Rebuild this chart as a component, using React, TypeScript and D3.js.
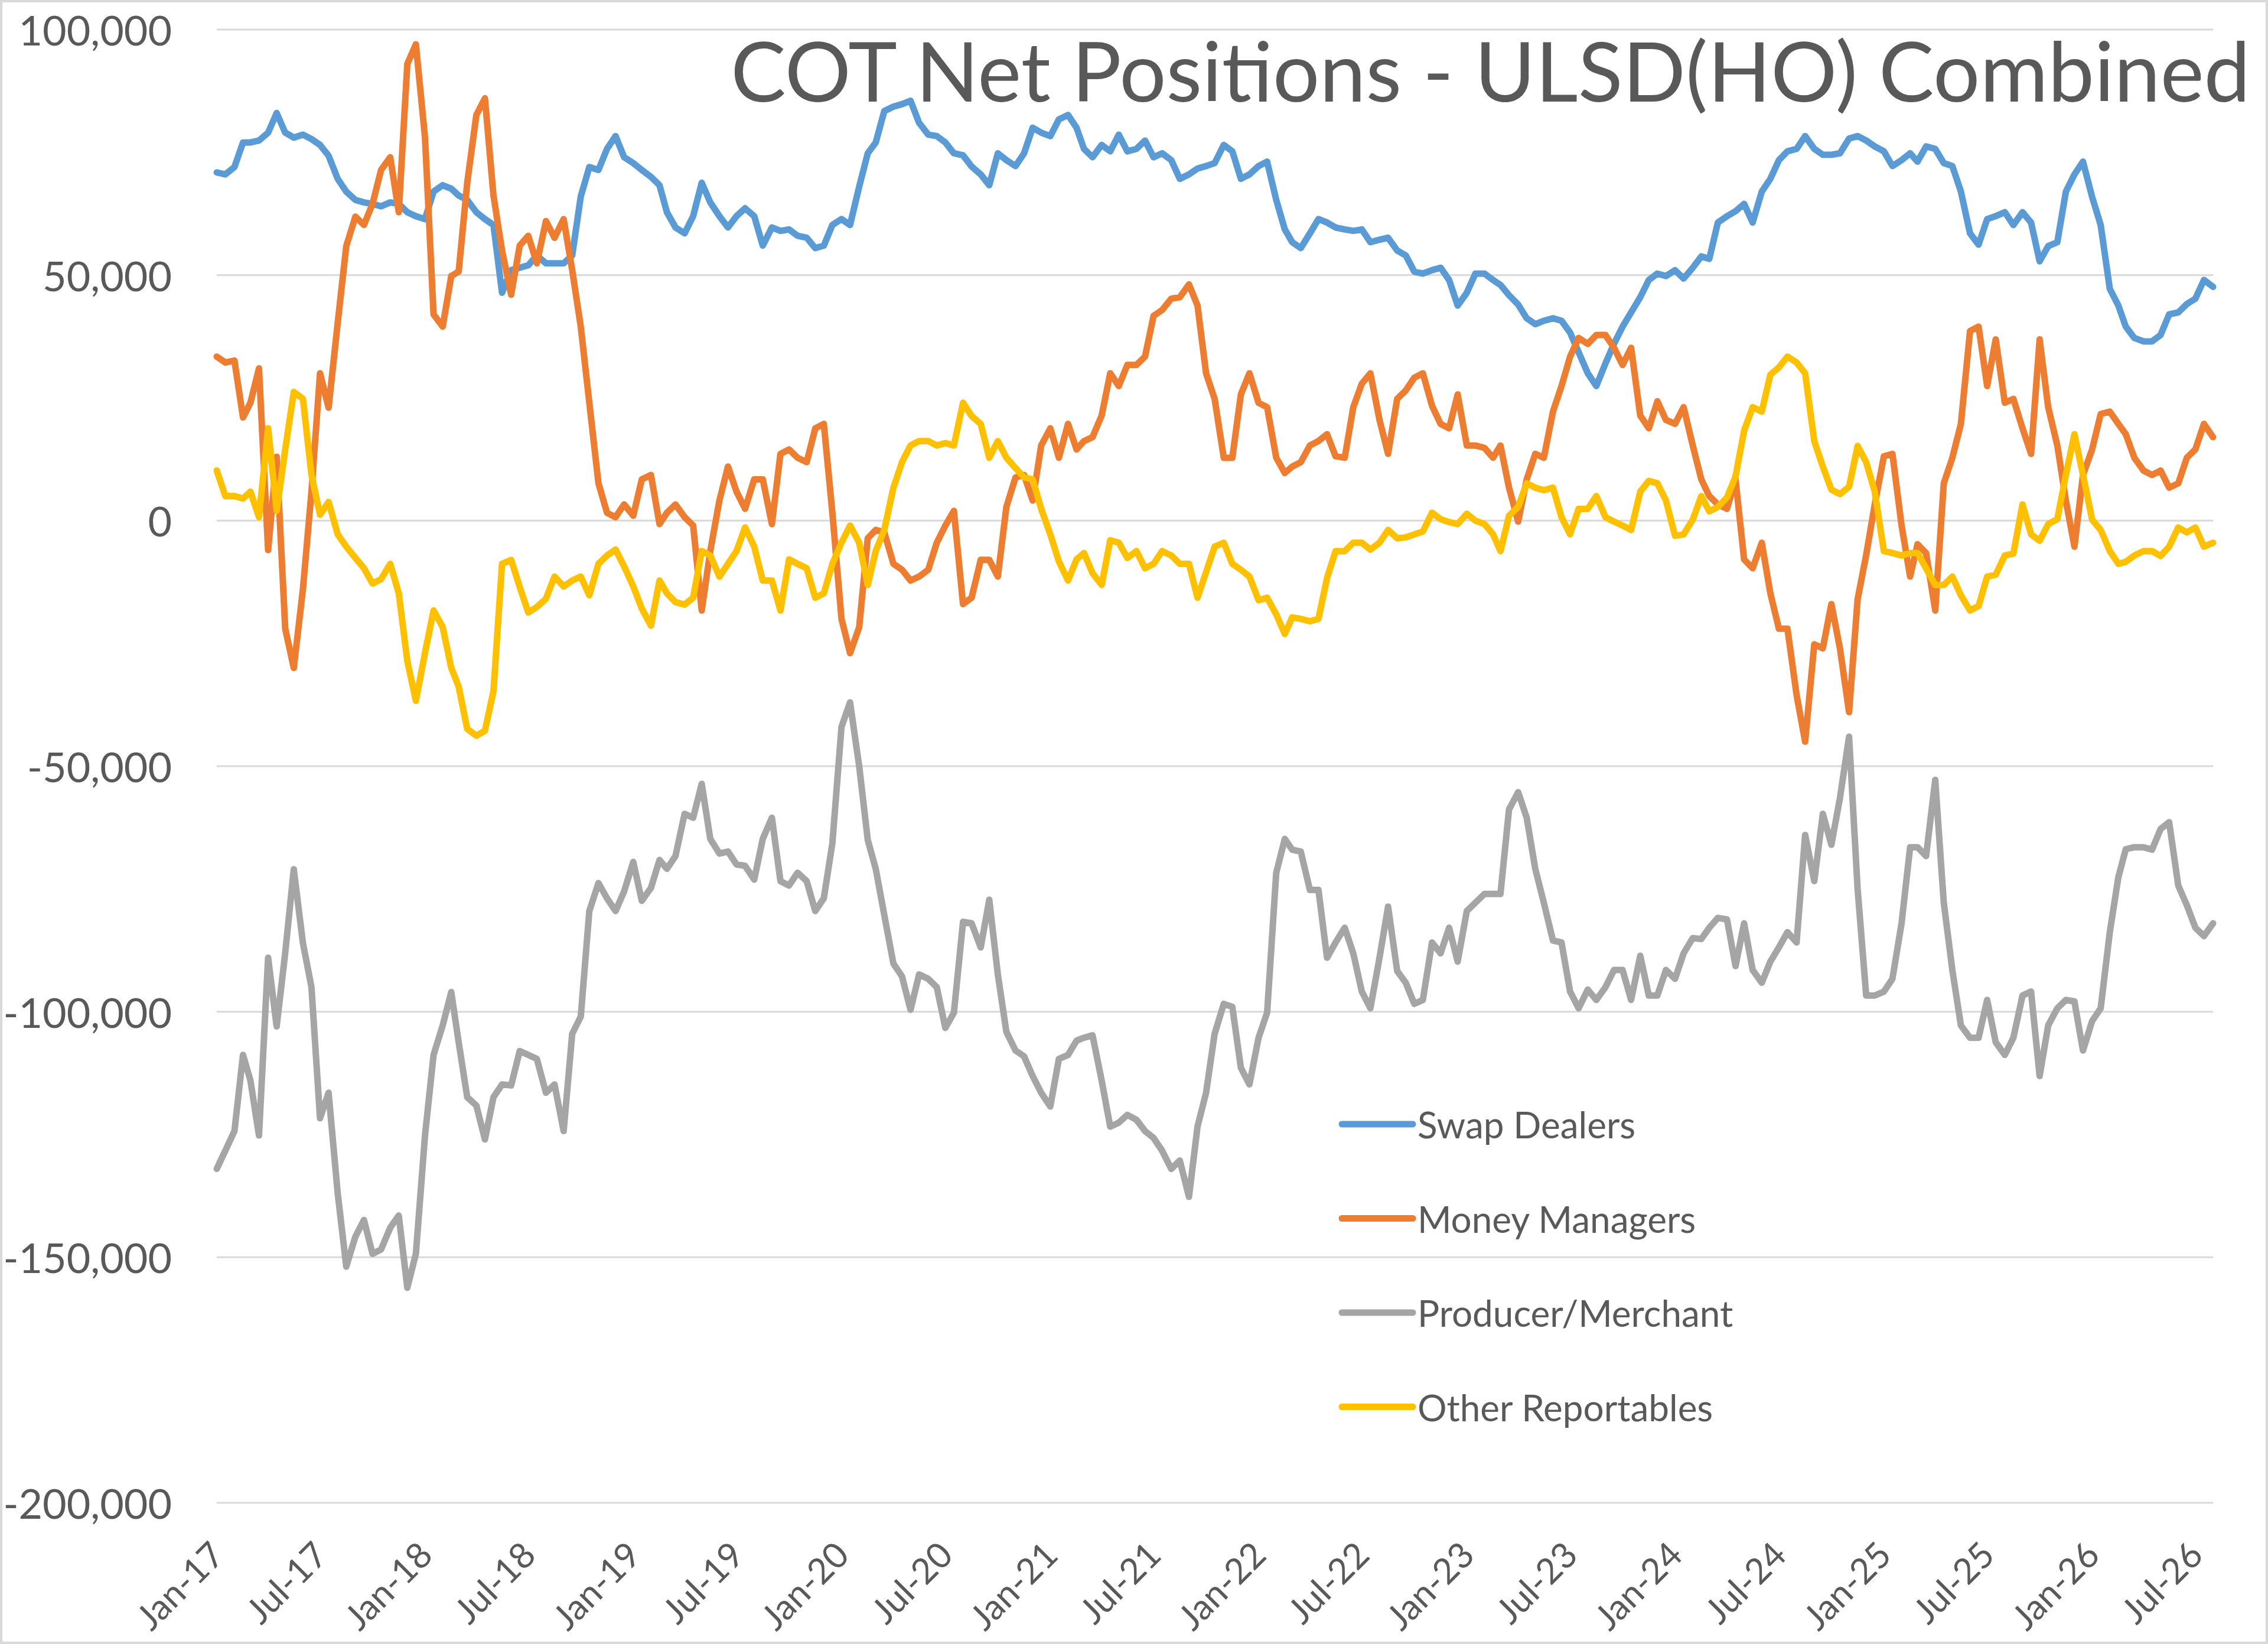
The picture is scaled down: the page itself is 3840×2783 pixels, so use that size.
import React from "react";
import * as d3 from "d3";

// net positions in thousands of contracts, sampled on the 1st and 16th of each month, Jan-17 .. Aug-26
const swapDealers = [
  70.9, 70.5, 72, 77, 77, 77.4, 79, 83, 79, 78, 78.6, 77.7,
  76.5, 74.3, 69.6, 67, 65.3, 64.8, 64.5, 64, 64.8, 64.5, 62.8, 62,
  61.4, 67, 68.3, 67.6, 66.2, 65.3, 62.8, 61.4, 60.2, 46.4, 51, 51.5,
  52, 54, 52.4, 52.4, 52.4, 54, 66, 72, 71.4, 75.7, 78.3, 74,
  72.8, 71.4, 70, 68.3, 62.8, 59.7, 58.5, 62, 68.8, 64.8, 62, 59.7,
  62, 63.6, 62, 56, 59.7, 59, 59.3, 58, 57.6, 55.5, 56, 60.2,
  61.4, 60.2, 68, 74.8, 77, 83.4, 84.3, 84.8, 85.5, 81, 78.6, 78.3,
  77, 74.8, 74.4, 72.1, 70.5, 68.3, 74.8, 73.4, 72.2, 74.8, 80, 79,
  78.3, 81.7, 82.6, 80, 75.7, 74, 76.5, 75.2, 78.6, 75.2, 75.7, 77.4,
  74, 74.8, 73.4, 69.6, 70.5, 71.7, 72.2, 72.8, 76.5, 75.2, 69.6, 70.5,
  72.2, 73.1, 65.3, 59.3, 56.7, 55.5, 58.5, 61.4, 60.7, 59.7, 59.3, 59,
  59.3, 56.7, 57.2, 57.6, 55, 54, 50.7, 50.3, 51, 51.5, 49, 43.8,
  46.4, 50.3, 50.3, 49, 48, 45.9, 44, 41.2, 40, 40.7, 41.2, 40.7,
  38.3, 34.3, 30, 27.4, 32, 36, 39.5, 42.4, 45.5, 49, 50.3, 49.8,
  51, 49.3, 51.5, 53.8, 53.3, 60.7, 62, 63, 64.5, 60.7, 67, 69.6,
  73.4, 75.2, 75.7, 78.3, 75.7, 74.5, 74.5, 74.8, 77.8, 78.3, 77.4, 76.2,
  75.2, 72.2, 73.4, 74.8, 73.1, 76.2, 75.7, 72.8, 72.2, 67, 58.5, 56.2,
  61.4, 62, 62.8, 60.2, 62.8, 60.7, 52.8, 55.9, 56.7, 67, 70.5, 73.1,
  65.9, 60.2, 47.2, 43.8, 39.5, 37.2, 36.5, 36.5, 37.8, 42, 42.4, 44.1,
  45.2, 49, 47.6,
];

const moneyManagers = [
  33.4, 32.2, 32.6, 21, 24, 31, -6, 13, -22, -30, -14, 5.9,
  30, 23, 40.3, 55.9, 61.9, 60.2, 64.5, 71.4, 74, 62.8, 93, 97,
  78, 42, 39.5, 49.8, 50.7, 68.8, 82.6, 86, 66.2, 55, 46, 56,
  58, 52.4, 61, 57.6, 61.4, 51, 39.5, 24, 7.6, 1.6, 0.7, 3.3,
  1, 8.4, 9.3, -0.7, 1.6, 3.3, 0.7, -1, -18.3, -6.2, 4.1, 11,
  5.9, 2.4, 8.4, 8.4, -0.7, 13.6, 14.5, 12.8, 11.9, 18.8, 19.7, 1.6,
  -20, -27, -21.7, -3.6, -1.9, -2.4, -8.8, -10, -12.2, -11.4, -10, -4.5,
  -1, 2, -17, -15.7, -8, -8, -11.4, 2.8, 8.8, 9.3, 4.1, 15.3,
  18.8, 12.8, 19.7, 14.5, 16.2, 17, 21.4, 30, 27.4, 31.7, 31.7, 33.4,
  41.7, 42.9, 45.2, 45.5, 48.1, 43.8, 30, 24.8, 12.8, 12.8, 25.7, 30,
  24, 23.1, 12.8, 9.7, 11, 11.9, 15.3, 16.2, 17.6, 13.1, 12.8, 23.1,
  27.9, 30, 20.5, 13.6, 24.8, 26.5, 29.1, 30, 23.4, 19.7, 18.8, 25.7,
  15.3, 15.3, 14.8, 12.8, 15.3, 6.7, -0.2, 8.4, 13.6, 12.8, 22.2, 27.4,
  33.4, 37.2, 36, 37.8, 37.8, 35.2, 31.7, 35.2, 21.4, 18.8, 24.3, 20.5,
  19.7, 23.1, 15.3, 8.4, 5, 3.3, 2.4, 8.4, -7.9, -9.7, -4.5, -14.8,
  -22, -22, -35.5, -45, -25.2, -26, -17, -26, -39, -16, -7, 3.3,
  13.1, 13.6, -1, -11.4, -4.8, -6.6, -18.3, 7.6, 12.8, 19.7, 38.6, 39.5,
  27.4, 36.9, 24, 24.8, 18.8, 13.6, 36.9, 23.1, 15.3, 4.1, -5.3, 9.3,
  14.5, 21.7, 22.2, 19.7, 17.6, 12.8, 10.2, 9.3, 10.2, 6.7, 7.6, 12.8,
  14.5, 19.7, 17,
];

const producerMerchant = [
  -132, -128.3, -124.3, -108.8, -114, -125.2, -89, -103, -88, -71, -86, -95,
  -121.7, -116.5, -137, -151.9, -145.8, -142.4, -149.3, -148.4, -144, -141.5, -156.2, -149.3,
  -125.2, -108.8, -102.8, -96, -106.2, -117.4, -119.1, -126, -117.4, -114.8, -115, -108,
  -108.8, -109.6, -116.5, -114.8, -124.3, -104.5, -101, -79.5, -73.8, -76.9, -79.5, -75.5,
  -69.5, -77.4, -74.8, -69.1, -70.9, -68.3, -59.7, -60.5, -53.6, -64.8, -67.8, -67.4,
  -70, -70.3, -73.1, -64.8, -60.5, -73.4, -74.3, -71.7, -73.4, -79.5, -76.9, -65.7,
  -42, -37, -50, -65, -70.9, -80.3, -90.2, -92.8, -99.6, -92.4, -93.3, -95,
  -103.3, -100.2, -81.7, -82, -86.9, -77.2, -92.4, -104.1, -107.9, -109.1, -113.1, -116.5,
  -119.3, -109.6, -108.8, -105.9, -105.3, -104.8, -114, -123.4, -122.6, -121, -122, -124.3,
  -125.7, -128.3, -132, -130.3, -137.7, -123.4, -116.5, -104.5, -98.4, -99, -111.4, -114.8,
  -105.3, -100.2, -71.7, -64.8, -67, -67.4, -75.2, -75.2, -89, -85.9, -82.9, -88.1,
  -95.9, -99.3, -89, -78.6, -91.7, -94.1, -98.4, -97.6, -85.9, -88.1, -82.9, -89.8,
  -79.5, -77.8, -76, -76, -76, -58.8, -55.3, -60.5, -70.9, -77.8, -85.5, -85.9,
  -95.9, -99.3, -95.5, -97.6, -95, -91.5, -91.5, -97.6, -88.6, -96.7, -96.7, -91.5,
  -93.3, -88.1, -85, -85.2, -82.9, -80.9, -81.2, -90.7, -82, -91.5, -94.1, -89.8,
  -86.9, -83.8, -85.9, -64, -73.4, -59.7, -66, -56.5, -44, -75, -96.7, -96.7,
  -95.9, -93.3, -82, -66.5, -66.5, -68.3, -52.8, -77.8, -91.5, -102.8, -105.3, -105.3,
  -97.6, -106.2, -108.8, -105.3, -96.7, -95.9, -113.1, -102.8, -99.3, -97.6, -97.9, -107.9,
  -101.9, -99.3, -83.8, -72.6, -66.9, -66.5, -66.5, -67, -62.8, -61.4, -74.3, -78.3,
  -82.9, -84.6, -82,
];

const otherReportables = [
  10.2, 5, 5, 4.5, 5.9, 0.7, 18.8, 2, 14.5, 26.2, 24.8, 9.3,
  1.2, 3.8, -2.8, -5.3, -7.6, -9.7, -12.8, -11.9, -8.8, -14.8, -28.6, -36.7,
  -26.9, -18.3, -21.7, -30, -33.8, -42.4, -43.8, -42.8, -34.7, -8.8, -8, -13.5,
  -18.7, -17.6, -15.9, -11.4, -13.4, -12.2, -11.4, -15.2, -8.8, -7.1, -5.9, -9.3,
  -13.4, -17.9, -21.4, -12.2, -14.8, -16.6, -17.1, -15.7, -6.2, -7.1, -11.4, -8.8,
  -6.2, -1.4, -5.3, -12.2, -12.2, -18.3, -7.9, -8.8, -9.7, -15.7, -14.8, -8.8,
  -4.5, -1, -4.5, -13.1, -6.2, -1.9, 6.7, 11.9, 15.3, 16.2, 16.2, 15.3,
  15.8, 15.3, 24, 21.3, 19.7, 12.8, 16.2, 12.8, 10.7, 8.8, 8.4, 2.4,
  -2.8, -8.3, -12.2, -7.9, -6.6, -10.7, -13.1, -4, -4.5, -7.6, -6.2, -9.7,
  -8.8, -6.2, -7.1, -8.8, -8.8, -15.7, -10.5, -5.3, -4.5, -8.8, -10, -11.4,
  -16.2, -15.7, -19.1, -23.1, -19.7, -20, -20.5, -20, -11.7, -6.2, -6.2, -4.5,
  -4.5, -5.9, -4.5, -1.9, -3.6, -3.4, -2.8, -2.2, 1.6, 0.3, -0.3, -0.7,
  1.4, 0, -0.7, -2.8, -6.2, 1, 2.8, 7.6, 6.7, 6.2, 6.7, 0.7,
  -2.8, 2.4, 2.4, 5, 0.7, -0.2, -1, -1.9, 5.9, 8.1, 7.6, 4.1,
  -3.1, -2.8, 0.2, 5, 1.9, 2.8, 4.7, 9, 18.3, 23.1, 22.2, 29.7,
  31.2, 33.4, 32.2, 30, 16.2, 11, 6.3, 5.4, 6.9, 15.2, 11.9, 5.9,
  -6.2, -6.6, -7.1, -6.6, -6.6, -9.7, -13.1, -13.1, -11.4, -15.2, -18.3, -17.4,
  -11.4, -11, -7.1, -6.7, 3.3, -2.8, -4.1, -0.7, 0.3, 9.3, 17.6, 9.3,
  0.2, -1.9, -6.2, -8.8, -8.4, -7.1, -6.2, -6.2, -7.2, -5.3, -1.4, -2.4,
  -1.4, -5.3, -4.5,
];

const seriesNames = ["Swap Dealers", "Money Managers", "Producer/Merchant", "Other Reportables"];
const seriesColors = ["#5B9BD5", "#ED7D31", "#A5A5A5", "#FFC000"];
const yTicks = [100000, 50000, 0, -50000, -100000, -150000, -200000];

const W = 3840;
const H = 2783;
const FONT = "Lato, 'Open Sans', sans-serif";
const TEXT = "#595959";

// 1st and 16th of each month
const dates = swapDealers.map(
  (_, i) => new Date(2017 + Math.floor(i / 24), Math.floor(i / 2) % 12, i % 2 ? 16 : 1)
);

const fmt = d3.formatLocale({
  decimal: ".",
  thousands: ",",
  grouping: [3],
  currency: ["$", ""],
  minus: "-",
}).format(",");

export default function App() {
  const x = d3
    .scaleTime()
    .domain([new Date(2017, 0, 1), new Date(2026, 7, 1)])
    .range([367, 3747]);
  const y = d3.scaleLinear().domain([-200000, 100000]).range([2544, 50]);

  const xTicks = d3.timeMonth.every(6)!.range(new Date(2017, 0, 1), new Date(2026, 7, 1));
  const xFmt = d3.timeFormat("%b-%y");

  const line = d3
    .line<number>()
    .x((_, i) => x(dates[i]))
    .y((v) => y(v * 1000));

  const allSeries = [swapDealers, moneyManagers, producerMerchant, otherReportables];

  return (
    <svg
      width={W}
      height={H}
      style={{ position: "absolute", left: 0, top: 0, background: "#fff" }}
      fontFamily={FONT}
    >
      <rect x={2} y={2} width={W - 4} height={H - 4} fill="#fff" stroke="#d9d9d9" strokeWidth={4} />

      {yTicks.map((t) => (
        <g key={t}>
          <line x1={367} x2={3747} y1={y(t)} y2={y(t)} stroke="#d9d9d9" strokeWidth={3} />
          <text
            x={291}
            y={y(t)}
            textAnchor="end"
            dominantBaseline="central"
            fontSize={70}
            fill={TEXT}
          >
            {fmt(t)}
          </text>
        </g>
      ))}

      {xTicks.map((d) => (
        <text
          key={+d}
          transform={`translate(${x(d)},${2620}) rotate(-45)`}
          textAnchor="end"
          dominantBaseline="central"
          fontSize={60}
          fill={TEXT}
        >
          {xFmt(d)}
        </text>
      ))}

      {allSeries.map((s, k) => (
        <path
          key={seriesNames[k]}
          d={line(s) ?? ""}
          fill="none"
          stroke={seriesColors[k]}
          strokeWidth={11}
          strokeLinejoin="round"
          strokeLinecap="round"
        />
      ))}

      <text x={3810} y={172} textAnchor="end" fontSize={140} fill={TEXT}>
        COT Net Positions - ULSD(HO) Combined
      </text>

      {seriesNames.map((name, k) => {
        const ly = 1903 + k * 159.5;
        return (
          <g key={name}>
            <line x1={2272} x2={2392} y1={ly} y2={ly} stroke={seriesColors[k]} strokeWidth={11} strokeLinecap="round" />
            <text x={2400} y={ly} dominantBaseline="central" fontSize={62} fill={TEXT}>
              {name}
            </text>
          </g>
        );
      })}
    </svg>
  );
}
